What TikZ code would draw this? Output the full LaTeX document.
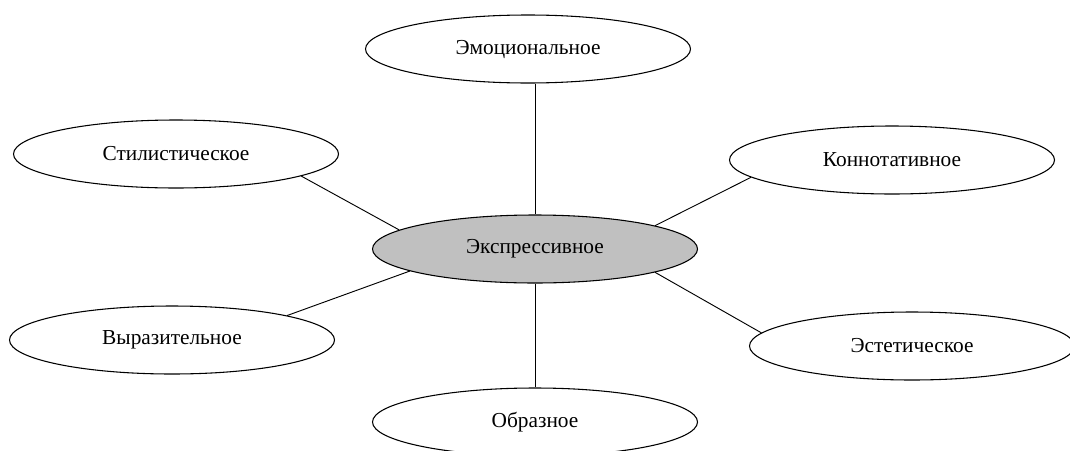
\documentclass[tikz,border=0pt]{standalone}
\usepackage{fontspec}
\setmainfont{Liberation Serif}
\usetikzlibrary{shapes.geometric}
\definecolor{silverfill}{RGB}{192,192,192}
\tikzset{
  oval/.style={ellipse, draw=black, line width=0.8pt, fill=white,
    minimum width=243.75pt, minimum height=51pt, inner sep=0pt,
    font=\fontsize{16}{19}\selectfont},
  mainoval/.style={oval, fill=silverfill},
  link/.style={draw=black, line width=0.7pt}
}
\begin{document}
\begin{tikzpicture}[x=0.75pt,y=-0.75pt]
\useasboundingbox (0,0) rectangle (1070,450);
\clip (0,0) rectangle (1070,450);
\node[mainoval] (c) at (535,249) {Экспрессивное};
\node[oval] (t) at (528,49) {Эмоциональное};
\node[oval] (s) at (176,154) {Стилистическое};
\node[oval] (k) at (892,160) {Коннотативное};
\node[oval] (v) at (172,340) {Выразительное};
\node[oval] (e) at (912,346) {Эстетическое};
\node[oval] (b) at (535,422) {Образное};
\draw[link] (t.south -| c.center) -- (c.north);
\draw[link] (c.south) -- (b.north -| c.center);
\draw[link] (c.172) -- (s.-10);
\draw[link] (c.11) -- (k.187);
\draw[link] (c.190) -- (v.12);
\draw[link] (c.-11.5) -- (e.175);
\end{tikzpicture}
\end{document}
